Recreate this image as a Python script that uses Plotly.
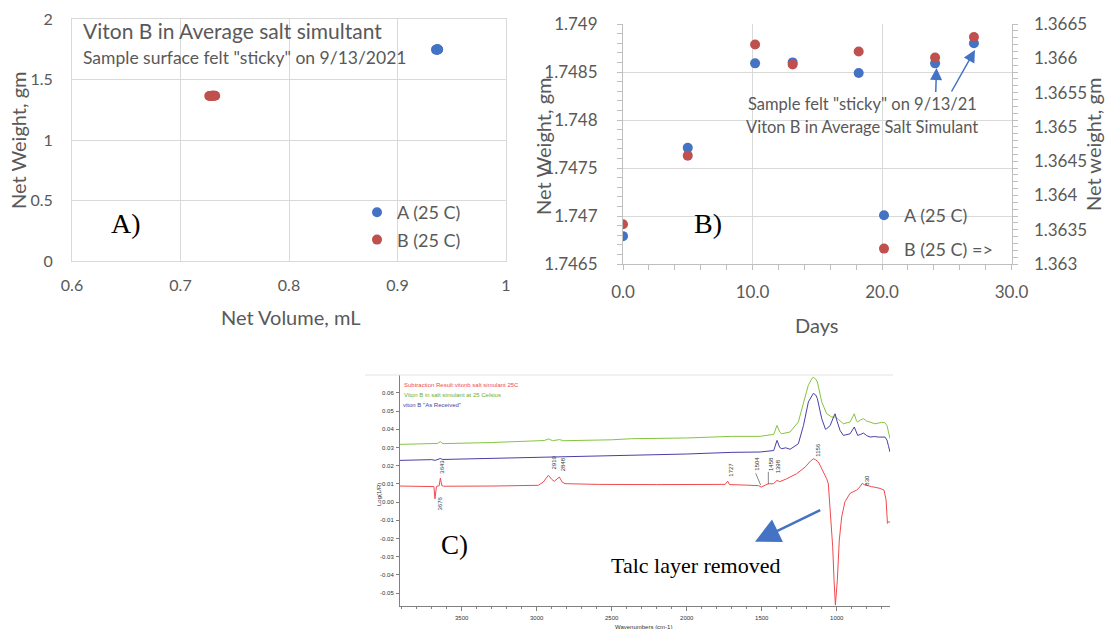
import plotly.graph_objects as go

W, H = 1105, 629
def fx(p): return p / W
def fy(p): return 1 - p / H

# ---------------- data ----------------
days = [0.0, 5.0, 10.2, 13.1, 18.2, 24.1, 27.1]
weight_A = [1.74679, 1.74771, 1.74859, 1.74860, 1.74849, 1.74859, 1.74880]
weight_B = [1.36358, 1.36458, 1.36620, 1.36591, 1.36610, 1.36601, 1.36631]
volume_A = [0.9355, 0.9360, 0.9365, 0.9370, 0.9375, 0.9365, 0.9370]
volume_B = [0.7265, 0.7275, 0.7290, 0.7300, 0.7310, 0.7320, 0.7295]

a_xticks = [0.6, 0.7, 0.8, 0.9, 1.0]
a_xtext = ["0.6", "0.7", "0.8", "0.9", "1"]
a_yticks = [0, 0.5, 1, 1.5, 2]
a_ytext = ["0", "0.5", "1", "1.5", "2"]
b_xticks = [0, 10, 20, 30]
b_xtext = ["0.0", "10.0", "20.0", "30.0"]
b_yticks = [1.7465, 1.747, 1.7475, 1.748, 1.7485, 1.749]
b_ytext = ["1.7465", "1.747", "1.7475", "1.748", "1.7485", "1.749"]
b_y2ticks = [1.363, 1.3635, 1.364, 1.3645, 1.365, 1.3655, 1.366, 1.3665]
b_y2text = ["1.363", "1.3635", "1.364", "1.3645", "1.365", "1.3655", "1.366", "1.3665"]

# FTIR spectra (wavenumber, Log(1/R))
wn_sim = [3911, 3700, 3660, 3643, 3625, 3300, 2990, 2950, 2919, 2895, 2848, 2820, 2500, 2367,
          2000, 1700, 1511, 1420, 1398, 1380, 1367, 1311, 1256, 1222, 1190, 1165, 1156, 1140,
          1129, 1100, 1067, 1033, 1010, 990, 956, 911, 883, 868, 860, 840, 822, 800, 778, 745,
          700, 680, 665, 656, 645]
ab_sim = [0.0317, 0.0320, 0.0322, 0.0332, 0.0321, 0.0327, 0.0336, 0.0338, 0.0347, 0.0337, 0.0343,
          0.0337, 0.0342, 0.0348, 0.0352, 0.0361, 0.0361, 0.0372, 0.0421, 0.0385, 0.0375, 0.0385,
          0.0440, 0.0550, 0.0640, 0.0680, 0.0685, 0.0675, 0.0660, 0.0550, 0.0485, 0.0467, 0.0468,
          0.0455, 0.0430, 0.0440, 0.0485, 0.0445, 0.0440, 0.0452, 0.0458, 0.0445, 0.0440, 0.0430,
          0.0438, 0.0436, 0.0420, 0.0394, 0.0348]
wn_rec = [3911, 3700, 3676, 3660, 3643, 3625, 3300, 2944, 2919, 2848, 2367, 2000, 1700, 1511,
          1420, 1398, 1380, 1367, 1340, 1311, 1256, 1222, 1189, 1165, 1156, 1140, 1129, 1100,
          1075, 1067, 1044, 1020, 1011, 1000, 978, 956, 930, 911, 883, 870, 860, 840, 822, 800,
          778, 750, 722, 678, 665, 656, 645]
ab_rec = [0.0229, 0.0233, 0.0229, 0.0234, 0.0239, 0.0234, 0.0240, 0.0247, 0.0249, 0.0250, 0.0256,
          0.0264, 0.0273, 0.0275, 0.0283, 0.0339, 0.0300, 0.0293, 0.0298, 0.0290, 0.0320, 0.0420,
          0.0550, 0.0590, 0.0597, 0.0588, 0.0568, 0.0458, 0.0400, 0.0403, 0.0420, 0.0470, 0.0485,
          0.0450, 0.0394, 0.0366, 0.0372, 0.0375, 0.0412, 0.0380, 0.0366, 0.0372, 0.0379, 0.0365,
          0.0357, 0.0360, 0.0357, 0.0357, 0.0340, 0.0311, 0.0275]
wn_sub = [3911, 3700, 3685, 3678, 3668, 3650, 3642, 3632, 3620, 3300, 2989, 2956, 2922, 2900,
          2883, 2849, 2830, 2811, 2589, 2200, 1922, 1744, 1727, 1715, 1600, 1520, 1504, 1480,
          1458, 1422, 1398, 1380, 1333, 1267, 1211, 1175, 1156, 1140, 1122, 1089, 1067, 1056,
          1044, 1027, 1018, 1009, 996, 983, 967, 945, 911, 880, 867, 845, 830, 815, 800, 770,
          745, 711, 685, 671, 662, 655, 650, 645]
ab_sub = [0.0088, 0.0086, 0.0085, 0.0018, 0.0086, 0.0090, 0.0132, 0.0090, 0.0087, 0.0088, 0.0092,
          0.0110, 0.0147, 0.0125, 0.0114, 0.0137, 0.0110, 0.0101, 0.0097, 0.0096, 0.0095, 0.0097,
          0.0115, 0.0096, 0.0093, 0.0090, 0.0082, 0.0093, 0.0100, 0.0101, 0.0119, 0.0112, 0.0128,
          0.0156, 0.0192, 0.0225, 0.0238, 0.0232, 0.0220, 0.0165, 0.0128, 0.0100, -0.0026,
          -0.0246, -0.0429, -0.0566, -0.0429, -0.0209, -0.0081, 0.0002, 0.0048, 0.0058, 0.0066,
          0.0084, 0.0103, 0.0095, 0.0093, 0.0085, 0.0081, 0.0075, 0.0066, 0.0011, -0.0117,
          -0.0108, -0.0110, -0.0112]
c_xticks = [3500, 3000, 2500, 2000, 1500, 1000]
c_yticks = [-0.05, -0.04, -0.03, -0.02, -0.01, 0.0, 0.01, 0.02, 0.03, 0.04, 0.05, 0.06]
c_ytext = ["-0.05", "-0.04", "-0.03", "-0.02", "-0.01", "0.00", "0.01", "0.02", "0.03", "0.04", "0.05", "0.06"]
peak_labels = [("3643", 441.7, 467), ("3676", 439, 503.5), ("2919", 553, 462.5), ("2848", 563.3, 464),
               ("1727", 730.7, 470), ("1504", 756.7, 464), ("1458", 771, 464), ("1398", 778.3, 466),
               ("1156", 817.7, 450), ("830", 866.7, 480)]

# ---------------- style ----------------
FONT = "Lato, 'Open Sans', sans-serif"
SERIF = "'Liberation Serif', 'DejaVu Serif', serif"
SMALL = "'Liberation Sans Narrow', 'Liberation Sans', Arial, sans-serif"
GRAY = "#595959"
GRID = "#D9D9D9"
AXL = "#BFBFBF"
BLUE = "#4472C4"
RED = "#C0504D"
SP_RED = "#F04A4E"
SP_GREEN = "#86C440"
SP_PURPLE = "#4A3FA6"

fig = go.Figure()
fig.add_trace(go.Scatter(x=volume_A, y=weight_A, mode="markers", name="A (25 C)",
                         marker=dict(color=BLUE, size=10), xaxis="x", yaxis="y",
                         legend="legend", legendgroup="a1"))
fig.add_trace(go.Scatter(x=volume_B, y=weight_B, mode="markers", name="B (25 C)",
                         marker=dict(color=RED, size=10), xaxis="x", yaxis="y",
                         legend="legend", legendgroup="b1"))
fig.add_trace(go.Scatter(x=days, y=weight_A, mode="markers", name="A (25 C)",
                         marker=dict(color=BLUE, size=10), xaxis="x2", yaxis="y2",
                         legend="legend2", legendgroup="a2"))
fig.add_trace(go.Scatter(x=days, y=weight_B, mode="markers", name="B (25 C) =>",
                         marker=dict(color=RED, size=10), xaxis="x2", yaxis="y3",
                         legend="legend2", legendgroup="b2"))
for wn, ab, col in [(wn_sim, ab_sim, SP_GREEN), (wn_rec, ab_rec, SP_PURPLE), (wn_sub, ab_sub, SP_RED)]:
    fig.add_trace(go.Scatter(x=wn, y=ab, mode="lines", line=dict(color=col, width=1),
                             xaxis="x3", yaxis="y4", showlegend=False, hoverinfo="skip"))

tickfont_a = dict(family=FONT, size=16, color=GRAY)
tickfont_b = dict(family=FONT, size=17, color=GRAY)
tickfont_c = dict(family=SMALL, size=6, color="#333333")

fig.update_layout(
    width=W, height=H, autosize=False,
    margin=dict(l=0, r=0, t=0, b=0, autoexpand=False),
    paper_bgcolor="white", plot_bgcolor="rgba(0,0,0,0)",
    xaxis=dict(domain=[fx(72), fx(506)], anchor="y", range=[0.6, 1.0], tickmode="array",
               tickvals=a_xticks, ticktext=a_xtext, showgrid=True, gridcolor=GRID, showline=True,
               linecolor=GRID, mirror=True, zeroline=False, ticks="", tickfont=tickfont_a,
               ticklabelstandoff=10, automargin=False),
    yaxis=dict(domain=[fy(261), fy(19)], anchor="x", range=[0, 2], tickmode="array",
               tickvals=a_yticks, ticktext=a_ytext, showgrid=True, gridcolor=GRID, showline=True,
               linecolor=GRID, mirror=True, zeroline=False, ticks="", tickfont=tickfont_a,
               ticklabelstandoff=15, automargin=False),
    xaxis2=dict(domain=[fx(623), fx(1011.5)], anchor="y2", range=[0, 30], tickmode="array",
                tickvals=b_xticks, ticktext=b_xtext, showgrid=True, gridcolor=GRID, showline=True,
                linecolor=AXL, zeroline=False, ticks="outside", ticklen=5, tickcolor=AXL,
                tickfont=tickfont_b, ticklabelstandoff=8, automargin=False,
                minor=dict(tickmode="linear", tick0=0, dtick=2, ticks="outside", ticklen=5,
                           tickcolor=AXL, showgrid=False)),
    yaxis2=dict(domain=[fy(264), fy(24)], anchor="x2", range=[1.7465, 1.749], tickmode="array",
                tickvals=b_yticks, ticktext=b_ytext, showgrid=True, gridcolor=GRID, showline=True,
                linecolor=AXL, zeroline=False, ticks="outside", ticklen=5, tickcolor=AXL,
                tickfont=tickfont_b, ticklabelstandoff=16, automargin=False,
                minor=dict(tickmode="linear", tick0=1.7465, dtick=0.0001, ticks="outside",
                           ticklen=5, tickcolor=AXL, showgrid=False)),
    yaxis3=dict(overlaying="y2", side="right", anchor="x2", range=[1.363, 1.3665],
                tickmode="array", tickvals=b_y2ticks, ticktext=b_y2text, showgrid=False,
                showline=True, linecolor=AXL, zeroline=False, ticks="outside", ticklen=5,
                tickcolor=AXL, tickfont=tickfont_b, ticklabelstandoff=13, automargin=False,
                minor=dict(tickmode="linear", tick0=1.363, dtick=0.0001, ticks="outside",
                           ticklen=5, tickcolor=AXL, showgrid=False)),
    xaxis3=dict(domain=[fx(400), fx(890)], anchor="y4", range=[3911, 645], tickmode="array",
                tickvals=c_xticks, ticktext=[str(v) for v in c_xticks], showgrid=False,
                showline=True, linecolor="#808080", linewidth=1, zeroline=False,
                ticks="outside", ticklen=4, tickcolor="#808080", tickfont=tickfont_c,
                ticklabelstandoff=2, automargin=False,
                minor=dict(tickmode="linear", tick0=0, dtick=100, ticks="outside", ticklen=2,
                           tickcolor="#808080", showgrid=False)),
    yaxis4=dict(domain=[fy(606), fy(375)], anchor="x3", range=[-0.0571, 0.0698], tickmode="array",
                tickvals=c_yticks, ticktext=c_ytext, showgrid=False, showline=True,
                linecolor="#808080", linewidth=1, zeroline=False, ticks="outside", ticklen=3,
                tickcolor="#808080", tickfont=tickfont_c, ticklabelstandoff=1, automargin=False),
    legend=dict(x=fx(357), y=fy(194), xanchor="left", yanchor="top", bgcolor="rgba(0,0,0,0)",
                font=dict(family=FONT, size=18, color=GRAY), traceorder="grouped",
                tracegroupgap=1, itemwidth=30),
    legend2=dict(x=fx(864), y=fy(197), xanchor="left", yanchor="top", bgcolor="rgba(0,0,0,0)",
                 font=dict(family=FONT, size=18, color=GRAY), traceorder="grouped",
                 tracegroupgap=7, itemwidth=30),
)

ann = []
def text(t, x, y, size, color=GRAY, family=FONT, xanchor="center", yanchor="middle", angle=0):
    ann.append(dict(text=t, x=fx(x), y=fy(y), xref="paper", yref="paper", showarrow=False,
                    xanchor=xanchor, yanchor=yanchor, textangle=angle,
                    font=dict(family=family, size=size, color=color)))

# Panel A
text("Viton B in Average salt simultant", 81, 31, 21, xanchor="left")
text("Sample surface felt \"sticky\" on 9/13/2021", 81, 58, 17.5, xanchor="left")
text("Net Volume, mL", 290, 317, 20)
text("Net Weight, gm", 18, 140, 20, angle=-90)
text("A)", 126, 224, 28, color="black", family=SERIF)
# Panel B
text("Days", 816, 325, 20)
text("Net Weight, gm", 543, 146, 20, angle=-90)
text("Net weight, gm", 1093, 145, 20, angle=-90)
text("B)", 708, 224, 28, color="black", family=SERIF)
text("Sample felt \"sticky\" on 9/13/21", 862, 104, 16.5)
text("Viton B in Average Salt Simulant", 862, 127, 16.5)
# Panel C
text("C)", 454, 545, 27, color="black", family=SERIF)
text("Talc layer removed", 695, 565, 22, color="black", family=SERIF)
text("Subtraction Result:vitonb salt simulant 25C", 402, 384.5, 6, color=SP_RED, family=SMALL, xanchor="left")
text("Viton B in salt simulant at 25 Celsius", 402, 395, 6, color="#6FAE2E", family=SMALL, xanchor="left")
text("viton B \"As Received\"", 401, 404.5, 6, color=SP_PURPLE, family=SMALL, xanchor="left")
text("Log(1/R)", 379, 495, 6, color="#333333", family=SMALL, angle=-90)
text("Wavenumbers (cm-1)", 643, 627, 6, color="#333333", family=SMALL)
for lab, x, y in peak_labels:
    text(lab, x, y, 6, color="#333333", family=SMALL, angle=-90)

# arrows
def arrow(tx, ty, sx, sy, width, size, color=BLUE):
    ann.append(dict(x=fx(tx), y=fy(ty), xref="paper", yref="paper", ax=sx - tx, ay=sy - ty,
                    axref="pixel", ayref="pixel", showarrow=True, arrowhead=2, arrowsize=size,
                    arrowwidth=width, arrowcolor=color, text=""))
arrow(936.5, 68, 935.7, 93.5, 1.5, 1.6)
arrow(975, 50, 950.7, 93, 1.5, 1.6)
arrow(755, 541.7, 821.7, 509.3, 2.5, 2.0)

fig.update_layout(annotations=ann)

# decorative lines for panel C
fig.add_shape(type="line", xref="paper", yref="paper", x0=fx(365), x1=fx(893), y0=fy(375), y1=fy(375),
              line=dict(color="#E3E3E3", width=1))
fig.add_shape(type="line", xref="x3", yref="y4", x0=1540, y0=0.0158, x1=1507, y1=0.0093,
              line=dict(color="#555555", width=0.7))
fig.add_shape(type="line", xref="x3", yref="y4", x0=1456, y0=0.0166, x1=1456, y1=0.0099,
              line=dict(color="#555555", width=0.7))

fig.write_html("out.html")
